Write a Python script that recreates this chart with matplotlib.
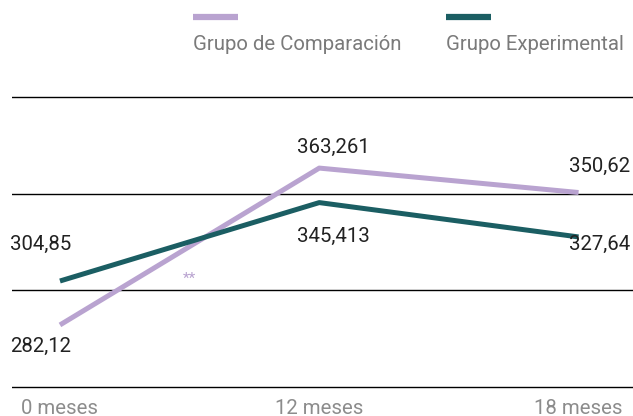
import matplotlib.pyplot as plt
from matplotlib.lines import Line2D

plt.rcParams['font.family'] = ['Roboto', 'DejaVu Sans']

periodos = ['0 meses', '12 meses', '18 meses']
comparacion = [282.12, 363.261, 350.62]
experimental = [304.85, 345.413, 327.64]
etiq_comp = ['282,12', '363,261', '350,62']
etiq_exp = ['304,85', '345,413', '327,64']
series = ['Grupo de Comparación', 'Grupo Experimental']

color_comp = '#b9a3d0'
color_exp = '#1b5e63'
gris = '#7a7a7a'
fs = 14.7

W, H = 633, 416
fig = plt.figure(figsize=(W / 100, H / 100), dpi=100)
# ejes un poco mas altos que 250-400 para no recortar las lineas de rejilla
ax = fig.add_axes([12 / W, 25.1 / H, 621 / W, 297.7 / H])

x = list(range(len(periodos)))
ax.plot(x, comparacion, color=color_comp, lw=3.6, solid_capstyle='butt')
ax.plot(x, experimental, color=color_exp, lw=3.6, solid_capstyle='butt')

ax.set_xlim(-0.185, 2.21)
ax.set_ylim(248, 402)
ax.set_yticks([250, 300, 350, 400])
ax.yaxis.grid(True, color='black', lw=1)
ax.set_axisbelow(True)
ax.tick_params(axis='y', length=0, labelleft=False)
ax.set_xticks(x)
ax.set_xticklabels(periodos, color='#8c8c8c', fontsize=fs)
ax.tick_params(axis='x', length=0, pad=6)
for s in ax.spines.values():
    s.set_visible(False)

# etiquetas de datos (desplazamientos en pixeles)
off_comp = [(-19, -21), (14, 21), (21, 26)]
off_exp = [(-19, 37), (14, -34), (21, -7)]
for i in x:
    ax.annotate(etiq_comp[i], (i, comparacion[i]), xytext=off_comp[i],
                textcoords='offset pixels', ha='center', va='center',
                fontsize=fs, color='#222222')
    ax.annotate(etiq_exp[i], (i, experimental[i]), xytext=off_exp[i],
                textcoords='offset pixels', ha='center', va='center',
                fontsize=fs, color='#222222')

ax.text(0.5, 306, '**', color=color_comp, fontsize=11, ha='center', va='center')

# leyenda
for x0, col, lab in [(193, color_comp, series[0]), (446, color_exp, series[1])]:
    fig.add_artist(Line2D([x0 / W, (x0 + 45) / W], [1 - 17 / H, 1 - 17 / H],
                          color=col, lw=4.5, solid_capstyle='butt',
                          transform=fig.transFigure))
    fig.text(x0 / W, 1 - 44 / H, lab, color=gris, fontsize=fs,
             ha='left', va='center')

fig.savefig('out.png', dpi=100)
